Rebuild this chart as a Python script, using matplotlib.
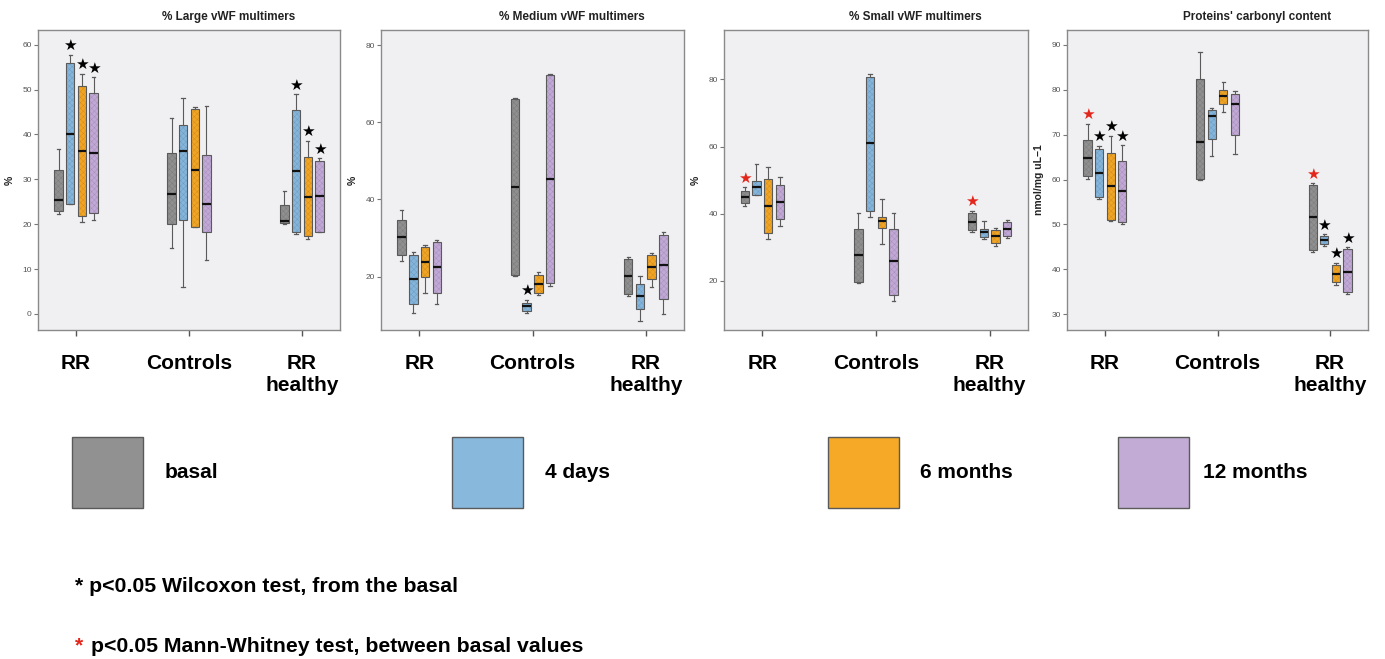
import numpy as np
import matplotlib.pyplot as plt
from matplotlib.patches import Rectangle, PathPatch
from matplotlib.colors import to_rgb

plt.rcParams['font.family'] = ['Liberation Sans', 'DejaVu Sans']
plt.rcParams['hatch.linewidth'] = 0.3

groups = ["RR", "Controls", "RR\nhealthy"]
series = ["basal", "4 days", "6 months", "12 months"]
box_colors = ["#8f8f8f", "#84b5dc", "#f2a524", "#c1a8d6"]
legend_colors = ["#919191", "#88b8dc", "#f5a926", "#c2abd4"]

# box summaries per group, per series: (whisker low, q1, median, q3, whisker high)
large_stats = [
    [(22.3, 22.9, 25.5, 32.1, 36.7), (24.4, 24.4, 40.2, 55.9, 57.8),
     (20.4, 21.8, 36.4, 50.9, 53.5), (21.0, 22.5, 35.9, 49.2, 52.8)],
    [(14.7, 20.0, 26.7, 35.9, 43.7), (5.9, 21.0, 36.4, 42.2, 48.1),
     (19.4, 19.4, 32.1, 45.7, 46.2), (12.1, 18.3, 24.6, 35.5, 46.4)],
    [(20.1, 20.3, 20.8, 24.2, 27.3), (17.8, 18.3, 31.9, 45.5, 49.0),
     (16.8, 17.3, 26.1, 35.0, 38.6), (18.2, 18.2, 26.2, 34.1, 34.7)],
]
medium_stats = [
    [(24.0, 25.5, 30.2, 34.7, 37.4), (10.7, 13.0, 19.4, 25.7, 26.3),
     (15.7, 19.8, 23.8, 27.7, 28.3), (13.0, 15.7, 22.5, 29.0, 29.6)],
    [(20.3, 20.5, 43.3, 65.9, 66.4), (10.7, 11.2, 12.3, 13.1, 14.0),
     (15.2, 15.7, 18.2, 20.5, 21.1), (17.7, 18.4, 45.2, 72.2, 72.6)],
    [(15.1, 15.5, 20.1, 24.6, 25.1), (8.6, 11.6, 15.1, 18.2, 20.1),
     (17.3, 19.4, 22.6, 25.5, 26.2), (10.4, 14.3, 23.0, 30.9, 31.5)],
]
small_stats = [
    [(42.4, 43.1, 45.1, 46.9, 47.9), (45.6, 45.6, 47.9, 49.9, 54.7),
     (32.4, 34.2, 42.3, 50.4, 53.9), (36.5, 38.5, 43.6, 48.6, 50.8)],
    [(19.3, 19.8, 27.6, 35.5, 40.3), (38.9, 40.9, 61.0, 80.8, 81.6),
     (30.9, 35.7, 37.7, 39.1, 44.4), (14.0, 15.8, 25.8, 35.4, 40.3)],
    [(34.5, 35.2, 37.6, 40.1, 40.9), (32.4, 33.0, 34.5, 35.4, 37.7),
     (30.5, 31.2, 33.4, 35.2, 35.9), (32.7, 33.4, 35.4, 37.4, 38.0)],
]
carbonyl_stats = [
    [(60.2, 60.7, 64.8, 68.7, 72.4), (55.7, 56.1, 61.4, 66.8, 67.5),
     (50.7, 51.0, 58.5, 65.9, 69.8), (50.1, 50.5, 57.4, 64.1, 67.6)],
    [(60.0, 60.2, 68.3, 82.4, 88.4), (65.2, 69.1, 74.2, 75.4, 75.9),
     (75.1, 76.8, 78.6, 80.0, 81.7), (65.8, 70.0, 76.8, 79.1, 79.7)],
    [(43.8, 44.3, 51.6, 58.7, 59.2), (45.1, 45.6, 46.6, 47.5, 47.8),
     (36.5, 37.1, 39.0, 41.0, 41.5), (34.5, 34.9, 39.5, 44.5, 44.9)],
]

# significance stars: (group, series, colour)
large_stars = [(0, 1, "k"), (0, 2, "k"), (0, 3, "k"), (2, 1, "k"), (2, 2, "k"), (2, 3, "k")]
medium_stars = [(1, 1, "k")]
small_stars = [(0, 0, "r"), (2, 0, "r")]
carbonyl_stars = [(0, 0, "r"), (0, 1, "k"), (0, 2, "k"), (0, 3, "k"),
                  (2, 0, "r"), (2, 1, "k"), (2, 2, "k"), (2, 3, "k")]

panels = [
    ("% Large vWF multimers", "%", large_stats, large_stars, (-3.6, 63.3), range(0, 61, 10)),
    ("% Medium vWF multimers", "%", medium_stats, medium_stars, (6.2, 83.9), range(20, 81, 20)),
    ("% Small vWF multimers", "%", small_stats, small_stars, (5.4, 94.7), range(20, 81, 20)),
    ("Proteins' carbonyl content", "nmol/mg uL\u22121", carbonyl_stats, carbonyl_stars, (26.5, 93.3), range(30, 91, 10)),
]

W, H = 1385, 659
fig = plt.figure(figsize=(W / 100, H / 100), dpi=100)

axes_px = [(38, 340), (381, 684), (724, 1028), (1067, 1368)]
offsets = np.array([-1.5, -0.5, 0.5, 1.5]) * 0.103


def shade(c, f=0.85):
    r, g, b = to_rgb(c)
    return (r * f, g * f, b * f)


for (x0, x1), (title, ylab, stats, stars, ylim, yticks) in zip(axes_px, panels):
    ax = fig.add_axes([x0 / W, 1 - 330 / H, (x1 - x0) / W, 300 / H])
    ax.set_facecolor("#f0f0f3")

    for g in range(3):
        for s in range(4):
            lo, q1, med, q3, hi = stats[g][s]
            d = [dict(whislo=lo, q1=q1, med=med, q3=q3, whishi=hi, fliers=[])]
            bp = ax.bxp(d, positions=[g + offsets[s]], widths=0.074, capwidths=0.03,
                        patch_artist=True, manage_ticks=False,
                        boxprops=dict(facecolor=box_colors[s], edgecolor=shade(box_colors[s]), linewidth=0),
                        whiskerprops=dict(color="#5a5a5a", linewidth=0.8),
                        capprops=dict(color="#5a5a5a", linewidth=0.9),
                        medianprops=dict(color="#111111", linewidth=1.6, zorder=4))
            box = bp["boxes"][0]
            box.set_hatch("xxxxxx")
            ax.add_patch(PathPatch(box.get_path(), fill=False, edgecolor="#5a5a5a",
                                   linewidth=0.8, zorder=3))

    for g, s, c in stars:
        hi = stats[g][s][4]
        col = "#e3261b" if c == "r" else "black"
        ax.annotate("\u2605", (g + offsets[s], hi), xytext=(0, 6.5), textcoords="offset points",
                    ha="center", va="center", fontsize=11, color=col, family="DejaVu Sans")

    ax.set_xlim(-0.337, 2.337)
    ax.set_ylim(*ylim)
    ax.set_yticks(list(yticks))
    ax.set_xticks([0, 1, 2])
    ax.set_xticklabels(groups, fontsize=15, fontweight="bold", linespacing=1.2, va="top")
    ax.tick_params(axis="x", length=4, width=1, color="#555555", pad=13)
    ax.tick_params(axis="y", length=3, width=0.8, color="#777777", labelsize=6, labelcolor="#555555", pad=1.5)
    for sp in ax.spines.values():
        sp.set_color("#8a8a8a")
        sp.set_linewidth(1)

    ax.set_ylabel(ylab, fontsize=7.5, fontweight="bold", color="#222222")
    ax.yaxis.set_label_coords(-0.076, 0.5)
    ax.text(0.63, 1 + 13 / 300, title, transform=ax.transAxes, ha="center", va="center",
            fontsize=8.5, fontweight="bold", color="#222222")

# legend squares
legend_x = [72, 452, 828, 1118]
text_x = [165, 545, 920, 1203]
for lx, tx, col, name in zip(legend_x, text_x, legend_colors, series):
    fig.patches.append(Rectangle((lx / W, 1 - 508 / H), 71 / W, 71 / H, transform=fig.transFigure,
                                 facecolor=col, edgecolor="#5a5a5a", linewidth=1))
    fig.text(tx / W, 1 - 473 / H, name, fontsize=15, fontweight="bold", va="center", ha="left")

# footnotes
fig.text(75 / W, 1 - 586 / H, "* p<0.05 Wilcoxon test, from the basal", fontsize=15.3,
         fontweight="bold", va="center", ha="left")
fig.text(75 / W, 1 - 646 / H, "*", fontsize=15.3, fontweight="bold", va="center", ha="left", color="#e3261b")
fig.text(91 / W, 1 - 646 / H, "p<0.05 Mann-Whitney test, between basal values", fontsize=15.3,
         fontweight="bold", va="center", ha="left")

fig.savefig("out.png", dpi=100)
